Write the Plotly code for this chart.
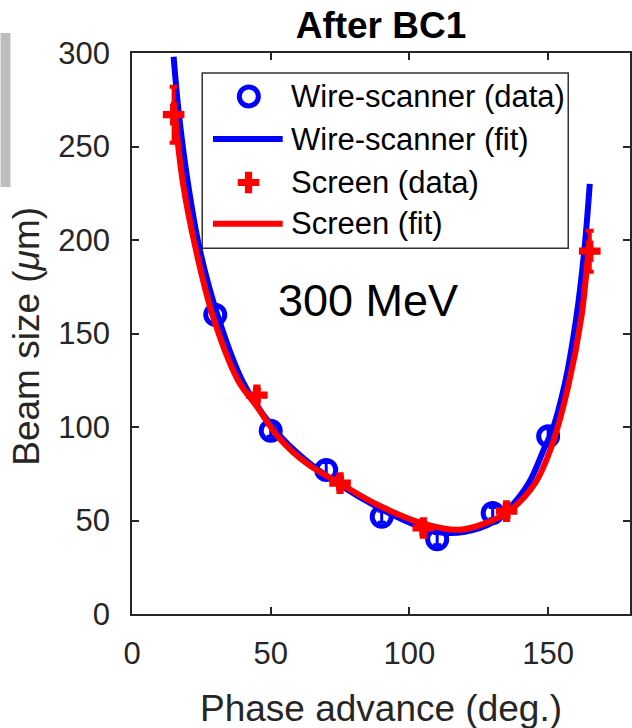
import plotly.graph_objects as go

# ---- data ----
phase_ws = [30, 50, 70, 90, 110, 130, 150]
size_ws = [160, 98, 77, 52, 40, 54, 95]
err_ws = [4, 3, 4, 3, 3, 3, 4]

phase_scr = [15, 45, 75, 105, 135, 165]
size_scr = [267, 117, 70, 46, 55, 194]
err_scr = [15, 3, 3, 3, 3, 11]

fit_ws_x = [15, 17, 20.2, 24.4, 31, 40, 52, 62, 75, 90, 105, 112, 120, 130, 136, 143, 149, 151.2, 156, 160.2, 163, 165]
fit_ws_y = [298, 266, 230, 195, 159, 124, 97.5, 83, 69, 56, 46, 43.5, 44, 49, 56.5, 70, 90, 97, 123, 159, 194, 230]

fit_scr_x = [15, 18.4, 23, 29.2, 38.2, 45, 53.1, 63, 74.7, 89, 104.6, 117.7, 127.3, 135.7, 145.3, 151.2, 157.2, 162, 164.6, 165]
fit_scr_y = [274, 230, 195, 159, 125, 111, 94, 80.5, 70, 58, 48.5, 45, 48.5, 54.7, 70, 89.5, 121.6, 159, 195, 199]

x_ticks = [0, 50, 100, 150]
y_ticks = [0, 50, 100, 150, 200, 250, 300]

legend_labels = ["Wire-scanner (data)", "Wire-scanner (fit)", "Screen (data)", "Screen (fit)"]

BLUE = "#0000ff"
RED = "#ff0000"
AX = "#262626"
FONT = "Liberation Sans, Arial, Helvetica, sans-serif"

circle_marker = dict(symbol="circle-open", size=19, color=BLUE, line=dict(width=5, color=BLUE))
cross_marker = dict(symbol="cross", size=18, color=RED, line=dict(width=0))

fig = go.Figure()

fig.add_trace(go.Scatter(
    x=phase_ws, y=size_ws, mode="markers", marker=circle_marker,
    error_y=dict(type="data", array=err_ws, color=BLUE, thickness=3, width=4),
    showlegend=False))
fig.add_trace(go.Scatter(
    x=fit_ws_x, y=fit_ws_y, mode="lines",
    line=dict(color=BLUE, width=6, shape="spline", smoothing=1.0),
    showlegend=False))
fig.add_trace(go.Scatter(
    x=phase_scr, y=size_scr, mode="markers", marker=cross_marker,
    error_y=dict(type="data", array=err_scr, color=RED, thickness=4, width=4),
    showlegend=False))
fig.add_trace(go.Scatter(
    x=fit_scr_x, y=fit_scr_y, mode="lines",
    line=dict(color=RED, width=6, shape="spline", smoothing=1.0),
    showlegend=False))

# ---- manual legend (paper coordinates on an overlay axis) ----
rows_y = [0.9226, 0.8466, 0.7692, 0.6956]
fig.add_shape(type="rect", xref="paper", yref="paper", x0=0.141, x1=0.876, y0=0.652, y1=0.9643,
              line=dict(color="#333333", width=1.5), fillcolor="white", layer="below")
fig.add_trace(go.Scatter(
    x=[0.2346], y=[rows_y[0]], xaxis="x2", yaxis="y2", mode="markers",
    marker=circle_marker, showlegend=False, hoverinfo="skip"))
fig.add_trace(go.Scatter(
    x=[0.1626, 0.3026], y=[rows_y[1]] * 2, xaxis="x2", yaxis="y2", mode="lines",
    line=dict(color=BLUE, width=6), showlegend=False, hoverinfo="skip"))
fig.add_trace(go.Scatter(
    x=[0.234], y=[rows_y[2]], xaxis="x2", yaxis="y2", mode="markers",
    marker=cross_marker, showlegend=False, hoverinfo="skip"))
fig.add_trace(go.Scatter(
    x=[0.1626, 0.3026], y=[rows_y[3]] * 2, xaxis="x2", yaxis="y2", mode="lines",
    line=dict(color=RED, width=6), showlegend=False, hoverinfo="skip"))
for lab, yy in zip(legend_labels, rows_y):
    fig.add_annotation(text=lab, xref="paper", yref="paper", x=0.316, y=yy,
                       xanchor="left", yanchor="middle", showarrow=False,
                       font=dict(family=FONT, size=31, color="black"))

# energy label
fig.add_annotation(text="300 MeV", x=84.9, y=167.4, xref="x", yref="y", showarrow=False,
                   xanchor="center", yanchor="middle", font=dict(family=FONT, size=45, color="black"))

# axis titles
fig.add_annotation(text="Phase advance (deg.)", xref="paper", yref="paper", x=0.5, y=-0.1677,
                   xanchor="center", yanchor="middle", showarrow=False,
                   font=dict(family=FONT, size=37, color=AX))
fig.add_annotation(text="Beam size (<i>μ</i>m)", xref="paper", yref="paper", x=-0.212, y=0.495,
                   xanchor="center", yanchor="middle", textangle=-90, showarrow=False,
                   font=dict(family=FONT, size=37, color=AX))

# gray strip at far left (part of neighbouring panel)
fig.add_shape(type="rect", xref="paper", yref="paper", x0=-0.264, x1=-0.244, y0=0.7611, y1=1.0357,
              line=dict(width=0), fillcolor="#bdbdbd", layer="above")

axis_common = dict(showgrid=False, zeroline=False, showline=True, linecolor=AX, linewidth=1.5,
                   mirror="ticks", ticks="inside", ticklen=7, tickwidth=1.5, tickcolor=AX,
                   tickfont=dict(family=FONT, size=31, color=AX))

fig.update_layout(
    width=632, height=728,
    margin=dict(l=132, r=0, t=53, b=114),
    paper_bgcolor="white", plot_bgcolor="white",
    title=dict(text="<b>After BC1</b>", x=0.5, xref="paper", xanchor="center",
               y=1 - 25 / 728, yref="container", yanchor="middle",
               font=dict(family=FONT, size=37, color="black")),
    xaxis=dict(range=[0, 179.5], tickvals=x_ticks, ticklabelstandoff=11, **axis_common),
    yaxis=dict(range=[0, 300], tickvals=y_ticks, ticklabelstandoff=14, **axis_common),
    xaxis2=dict(overlaying="x", range=[0, 1], visible=False),
    yaxis2=dict(overlaying="y", range=[0, 1], visible=False),
    showlegend=False,
)

fig.write_html("out.html")
